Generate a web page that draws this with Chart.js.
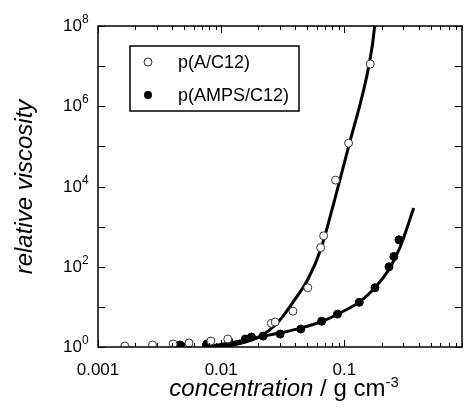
<!DOCTYPE html>
<html>
<head>
<meta charset="utf-8">
<script src="https://cdn.jsdelivr.net/npm/chart.js@4.4.1/dist/chart.umd.min.js"></script>
<style>
  html, body { margin: 0; padding: 0; background: #fff; }
  #chart { display: block; }
</style>
</head>
<body>
<canvas id="chart" width="467" height="410"></canvas>
<script>
"use strict";

// p(A/C12) - open circles
const openConc = [0.00165, 0.00277, 0.00407, 0.00548, 0.00824, 0.0113, 0.0255, 0.0274, 0.0382, 0.0504, 0.0641, 0.0678, 0.0847, 0.108, 0.162];
const openVisc = [1.06, 1.12, 1.19, 1.26, 1.41, 1.58, 3.9, 4.2, 7.8, 30, 300, 590, 14400, 1.2e5, 1.13e7];

// p(AMPS/C12) - filled circles
const fillConc = [0.00464, 0.00766, 0.0115, 0.0157, 0.0176, 0.0219, 0.0301, 0.0443, 0.0653, 0.0879, 0.132, 0.177, 0.230, 0.252, 0.277];
const fillVisc = [1.12, 1.19, 1.41, 1.58, 1.77, 1.87, 2.1, 2.8, 4.4, 6.6, 13, 30, 100, 180, 470];

// fit curves
const openFitConc = [0.0075, 0.0095, 0.0138, 0.0208, 0.029, 0.0382, 0.0504, 0.0641, 0.0832, 0.110, 0.159, 0.176, 0.183];
const openFitVisc = [1.0, 1.02, 1.2, 1.85, 4.2, 13, 48, 266, 4600, 1.2e5, 1.14e7, 1e8, 5.5e8];
const fillFitConc = [0.0075, 0.0115, 0.0157, 0.0219, 0.029, 0.0443, 0.0666, 0.0879, 0.1343, 0.1774, 0.234, 0.2818, 0.365];
const fillFitVisc = [1.0, 1.25, 1.5, 1.85, 2.2, 2.95, 4.4, 6.56, 13.7, 30.5, 95, 300, 2900];

// axes
const xTickValues = [0.001, 0.01, 0.1];
const xTickLabels = ['0.001', '0.01', '0.1'];
const yTickExponents = ['0', '2', '4', '6', '8'];
const legendLabels = ['p(A/C12)', 'p(AMPS/C12)'];

function toPoints(xs, ys) {
    return xs.map(function (v, i) { return {x: v, y: ys[i]}; });
}

const FONT = '"Liberation Sans", Arial, sans-serif';

// рамка, тики, подписи и легенда
const decor = {
    id: 'decor',
    afterDraw(chart) {
        const ctx = chart.ctx;
        const a = chart.chartArea;
        const xs = chart.scales.x;
        const ys = chart.scales.y;

        function seg(x1, y1, x2, y2) {
            ctx.beginPath();
            ctx.moveTo(x1, y1);
            ctx.lineTo(x2, y2);
            ctx.stroke();
        }

        ctx.save();
        ctx.strokeStyle = '#000';
        ctx.fillStyle = '#000';
        ctx.lineWidth = 1;

        // x ticks (top and bottom, inward)
        for (let d = -3; d <= 0; d++) {
            for (let m = 1; m <= 9; m++) {
                const v = m * Math.pow(10, d);
                if (v < xs.min || v > xs.max) continue;
                const px = Math.round(xs.getPixelForValue(v)) + 0.5;
                const len = m === 1 ? 7 : 4;
                seg(px, a.bottom, px, a.bottom - len);
                seg(px, a.top, px, a.top + len);
            }
        }
        // y ticks every decade
        for (let e = 0; e <= 8; e++) {
            const py = Math.round(ys.getPixelForValue(Math.pow(10, e))) + 0.5;
            seg(a.left, py, a.left + 7, py);
            seg(a.right, py, a.right - 7, py);
        }

        // frame
        ctx.lineWidth = 1.5;
        ctx.strokeRect(a.left, a.top, a.right - a.left, a.bottom - a.top);

        // x labels
        ctx.font = '17px ' + FONT;
        ctx.textAlign = 'center';
        ctx.textBaseline = 'alphabetic';
        xTickValues.forEach(function (v, i) {
            ctx.fillText(xTickLabels[i], xs.getPixelForValue(v), 375);
        });

        // y labels 10^n
        yTickExponents.forEach(function (e) {
            const py = ys.getPixelForValue(Math.pow(10, +e));
            ctx.font = '17px ' + FONT;
            ctx.textAlign = 'right';
            ctx.fillText('10', 82, py + 5);
            ctx.font = '12px ' + FONT;
            ctx.textAlign = 'left';
            ctx.fillText(e, 82, py - 3);
        });

        // y title
        ctx.save();
        ctx.translate(32, 187);
        ctx.rotate(-Math.PI / 2);
        ctx.font = 'italic 24px ' + FONT;
        ctx.textAlign = 'center';
        ctx.fillText('relative viscosity', 0, 0);
        ctx.restore();

        // x title: concentration / g cm^-3
        const parts = [
            {t: 'concentration', f: 'italic 24px ' + FONT, dy: 0},
            {t: ' / g cm', f: '24px ' + FONT, dy: 0},
            {t: '-3', f: '15px ' + FONT, dy: -9}
        ];
        let total = 0;
        parts.forEach(function (p) { ctx.font = p.f; p.w = ctx.measureText(p.t).width; total += p.w; });
        let cx = 284 - total / 2;
        ctx.textAlign = 'left';
        parts.forEach(function (p) {
            ctx.font = p.f;
            ctx.fillText(p.t, cx, 396 + p.dy);
            cx += p.w;
        });

        // legend
        ctx.lineWidth = 1.5;
        ctx.strokeRect(130, 46, 169, 65);
        const rows = [62, 95];
        rows.forEach(function (ry, i) {
            ctx.beginPath();
            ctx.arc(148, ry, 4, 0, Math.PI * 2);
            ctx.lineWidth = 1;
            if (i === 0) {
                ctx.fillStyle = '#fff';
                ctx.fill();
                ctx.strokeStyle = '#333';
                ctx.stroke();
            } else {
                ctx.fillStyle = '#000';
                ctx.fill();
            }
            ctx.fillStyle = '#000';
            ctx.font = '18px ' + FONT;
            ctx.textBaseline = 'middle';
            ctx.fillText(legendLabels[i], 178, ry + 1);
            ctx.textBaseline = 'alphabetic';
        });

        ctx.restore();
    }
};

const chart = new Chart(document.getElementById('chart'), {
    type: 'scatter',
    data: {
        datasets: [{
            label: legendLabels[0],
            data: toPoints(openConc, openVisc),
            pointRadius: 4,
            pointBackgroundColor: '#fff',
            pointBorderColor: '#333',
            pointBorderWidth: 1
        }, {
            label: legendLabels[1],
            data: toPoints(fillConc, fillVisc),
            pointRadius: 4,
            pointBackgroundColor: '#000',
            pointBorderColor: '#000',
            pointBorderWidth: 1
        }, {
            label: 'fit A',
            data: toPoints(openFitConc, openFitVisc),
            showLine: true,
            pointRadius: 0,
            borderColor: '#000',
            borderWidth: 3,
            cubicInterpolationMode: 'monotone'
        }, {
            label: 'fit AMPS',
            data: toPoints(fillFitConc, fillFitVisc),
            showLine: true,
            pointRadius: 0,
            borderColor: '#000',
            borderWidth: 3,
            cubicInterpolationMode: 'monotone'
        }]
    },
    options: {
        responsive: false,
        animation: false,
        devicePixelRatio: 1,
        layout: {padding: {left: 98, right: 1, top: 26, bottom: 63}},
        plugins: {legend: {display: false}, tooltip: {enabled: false}},
        scales: {
            x: {
                type: 'logarithmic',
                min: 0.001,
                max: 0.9,
                grid: {display: false, drawTicks: false},
                border: {display: false},
                ticks: {display: false}
            },
            y: {
                type: 'logarithmic',
                min: 1,
                max: 1e8,
                grid: {display: false, drawTicks: false},
                border: {display: false},
                ticks: {display: false}
            }
        }
    },
    plugins: [decor]
});
</script>
</body>
</html>
